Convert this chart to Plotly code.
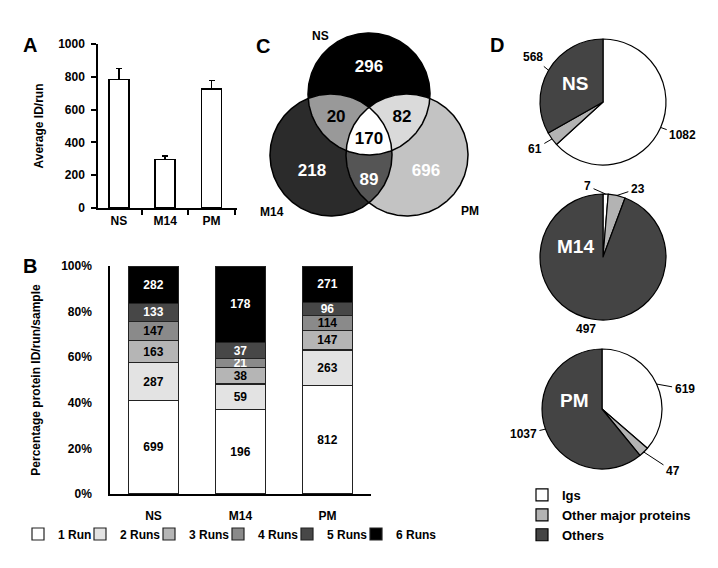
import numpy as np
import plotly.graph_objects as go

W, H = 718, 568
OFF = 8  # the page body adds an 8px margin; positions below are page pixels
FONT = "Liberation Sans, Arial, Helvetica, sans-serif"

# ---------------- data ----------------
# Panel A
a_categories = ["NS", "M14", "PM"]
a_avg_id = [785, 297, 725]
a_err = [67, 20, 52]
a_yticks = [0, 200, 400, 600, 800, 1000]

# Panel B (protein IDs found in n runs)
b_categories = ["NS", "M14", "PM"]
b_run_names = ["1 Run", "2 Runs", "3 Runs", "4 Runs", "5 Runs", "6 Runs"]
b_run1 = [699, 196, 812]
b_run2 = [287, 59, 263]
b_run3 = [163, 38, 147]
b_run4 = [147, 21, 114]
b_run5 = [133, 37, 96]
b_run6 = [282, 178, 271]
b_yticks = [0, 20, 40, 60, 80, 100]

# Panel C (Venn)
venn_sets = ["NS", "M14", "PM"]
venn_regions = [("NS",), ("M14",), ("PM",), ("NS", "M14"), ("NS", "PM"), ("M14", "PM"), ("NS", "M14", "PM")]
venn_counts = [296, 218, 696, 20, 82, 89, 170]

# Panel D (pies)
pie_samples = ["NS", "M14", "PM"]
pie_labels = ["Igs", "Other major proteins", "Others"]
pie_ns = [1082, 61, 568]
pie_m14 = [7, 23, 497]
pie_pm = [619, 47, 1037]

# ---------------- styles ----------------
b_colors = ["#ffffff", "#e3e3e3", "#b5b5b5", "#8a8a8a", "#474747", "#000000"]
b_text_colors = [["black"] * 3, ["black"] * 3, ["black"] * 3,
                 ["black", "white", "black"], ["white"] * 3, ["white"] * 3]
venn_geom = {"NS": (369, 94, 61), "M14": (331, 155, 61), "PM": (407, 155, 61)}
venn_fill = ["#000000", "#2b2b2b", "#c3c3c3", "#999999", "#dadada", "#555555", "#ffffff"]
venn_text_color = ["white", "white", "white", "black", "black", "white", "black"]
venn_label_dy = [-2, 5, 5, 1, 1, 8, 4]   # small nudges from region centroids
pie_colors = ["#ffffff", "#b3b3b3", "#444444"]
pie_geom = [(603, 102, 63), (603, 257, 63), (602, 409, 60)]
pie_name_pos = [(575, 83), (575, 246), (574, 400)]
pie_label_offsets = [[(22, 8), (-17, 10), (-16, -13)],
                     [(-18, -8), (21, -7), (-6, 10)],
                     [(28, 5), (29, 19), (-22, 5)]]
pie_label_arrow = [[True, True, True], [True, True, False], [True, True, True]]
b_legend_sq = [33, 95, 164, 233, 302, 371]   # left edge of each legend square


def fx(x):
    return (x - OFF) / W


def fy(y):
    return 1 - (y - OFF) / H


fig = go.Figure()

# ---------------- Panel A ----------------
fig.add_trace(go.Bar(
    x=a_categories, y=a_avg_id, xaxis="x", yaxis="y", width=0.43,
    marker=dict(color="white", line=dict(color="black", width=1.5)),
    error_y=dict(type="data", symmetric=False, array=a_err, arrayminus=[0] * 3,
                 color="black", thickness=1.5, width=3),
    showlegend=False))

# ---------------- Panel B ----------------
b_series = [b_run1, b_run2, b_run3, b_run4, b_run5, b_run6]
b_totals = [sum(s[i] for s in b_series) for i in range(3)]
for k, (name, vals) in enumerate(zip(b_run_names, b_series)):
    pct = [v / t * 100 for v, t in zip(vals, b_totals)]
    fig.add_trace(go.Bar(
        x=b_categories, y=pct, name=name, xaxis="x2", yaxis="y2", width=0.575,
        text=[str(v) for v in vals], textposition="inside", insidetextanchor="middle",
        textangle=0, constraintext="none",
        textfont=dict(color=b_text_colors[k], size=12, family=FONT, weight="bold"),
        marker=dict(color=b_colors[k], line=dict(color="#222222", width=1.2)),
        legend="legend" if k == 0 else f"legend{k + 1}", showlegend=True,
        hovertemplate="%{x}: %{text}<extra>" + name + "</extra>"))

# ---------------- Panel C ----------------
def circle_pts(cx, cy, r, n=360):
    t = np.linspace(0, 2 * np.pi, n, endpoint=False)
    return cx + r * np.cos(t), cy + r * np.sin(t)


def inside(x, y, name):
    cx, cy, r = venn_geom[name]
    return (x - cx) ** 2 + (y - cy) ** 2 <= r ** 2 + 1e-6


def intersection_polygon(names):
    xs, ys = [], []
    for nm in names:
        px, py = circle_pts(*venn_geom[nm], n=720)
        mask = np.ones_like(px, dtype=bool)
        for other in names:
            if other != nm:
                mask &= inside(px, py, other)
        xs.append(px[mask]); ys.append(py[mask])
    xs = np.concatenate(xs); ys = np.concatenate(ys)
    mx, my = xs.mean(), ys.mean()
    order = np.argsort(np.arctan2(ys - my, xs - mx))
    xs, ys = xs[order], ys[order]
    return np.append(xs, xs[0]), np.append(ys, ys[0])


paint = [(("NS",), 0), (("M14",), 1), (("PM",), 2), (("NS", "M14"), 3), (("NS", "PM"), 4),
         (("M14", "PM"), 5), (("NS", "M14", "PM"), 6)]
for names, idx in paint:
    if len(names) == 1:
        px, py = circle_pts(*venn_geom[names[0]])
        px, py = np.append(px, px[0]), np.append(py, py[0])
    else:
        px, py = intersection_polygon(names)
    fig.add_trace(go.Scatter(x=px, y=py, xaxis="x3", yaxis="y3", mode="lines", fill="toself",
                             fillcolor=venn_fill[idx], line=dict(width=0), hoverinfo="skip",
                             showlegend=False))
for nm in venn_sets:
    px, py = circle_pts(*venn_geom[nm])
    fig.add_trace(go.Scatter(x=np.append(px, px[0]), y=np.append(py, py[0]), xaxis="x3", yaxis="y3",
                             mode="lines", line=dict(color="black", width=1.5), hoverinfo="skip",
                             showlegend=False))

gx, gy = np.meshgrid(np.arange(250, 490, 0.5), np.arange(20, 230, 0.5))
lab_x, lab_y = [], []
for reg, dy in zip(venn_regions, venn_label_dy):
    m = np.ones_like(gx, dtype=bool)
    for nm in venn_sets:
        m &= inside(gx, gy, nm) if nm in reg else ~inside(gx, gy, nm)
    lab_x.append(gx[m].mean()); lab_y.append(gy[m].mean() + dy)
fig.add_trace(go.Scatter(x=lab_x, y=lab_y, xaxis="x3", yaxis="y3", mode="text",
                         text=[str(c) for c in venn_counts],
                         textfont=dict(color=venn_text_color, size=17, family=FONT, weight="bold"),
                         hoverinfo="skip", showlegend=False))

# ---------------- Panel D ----------------
annotations = []
lab_font = dict(size=12, family=FONT, color="black", weight="bold")
for i, (name, vals) in enumerate(zip(pie_samples, [pie_ns, pie_m14, pie_pm])):
    cx, cy, r = pie_geom[i]
    fig.add_trace(go.Pie(
        labels=pie_labels, values=vals, sort=False, direction="clockwise", rotation=0,
        marker=dict(colors=pie_colors, line=dict(color="black", width=1.2)),
        textinfo="none", hoverinfo="label+value", name=name,
        domain=dict(x=[fx(cx - r), fx(cx + r)], y=[fy(cy + r), fy(cy - r)]),
        legend="legend7", showlegend=True))
    tot = sum(vals)
    cum = np.cumsum([0] + vals)
    for j, v in enumerate(vals):
        a = (cum[j] + v / 2) / tot * 2 * np.pi
        ex, ey = cx + r * np.sin(a), cy - r * np.cos(a)
        dx, dy = pie_label_offsets[i][j]
        if pie_label_arrow[i][j]:
            annotations.append(dict(x=fx(ex), y=fy(ey), xref="paper", yref="paper", text=str(v),
                                    showarrow=True, arrowhead=0, arrowwidth=1, arrowcolor="black",
                                    ax=dx, ay=dy, standoff=0, startstandoff=1, font=lab_font,
                                    xanchor="center", yanchor="middle"))
        else:
            annotations.append(dict(x=fx(ex + dx), y=fy(ey + dy), xref="paper", yref="paper",
                                    text=str(v), showarrow=False, font=lab_font,
                                    xanchor="center", yanchor="middle"))
    nx, ny = pie_name_pos[i]
    annotations.append(dict(x=fx(nx), y=fy(ny), xref="paper", yref="paper", text=name,
                            showarrow=False, xanchor="center", yanchor="middle",
                            font=dict(size=19, family=FONT, color="white", weight="bold")))

for txt, (lx, ly) in zip(venn_sets, [(320, 36), (272, 212), (470, 211)]):
    annotations.append(dict(x=fx(lx), y=fy(ly), xref="paper", yref="paper", text=txt, showarrow=False,
                            xanchor="center", yanchor="middle", font=lab_font))
for txt, (lx, ly) in zip(["A", "B", "C", "D"], [(30, 45), (30, 266), (263, 46), (497, 45)]):
    annotations.append(dict(x=fx(lx), y=fy(ly), xref="paper", yref="paper", text=txt, showarrow=False,
                            xanchor="center", yanchor="middle",
                            font=dict(size=20, family=FONT, color="black", weight="bold")))

axis_font = dict(size=12, family=FONT, color="black", weight="bold")
legends = {}
for k in range(6):
    key = "legend" if k == 0 else f"legend{k + 1}"
    legends[key] = dict(x=fx(b_legend_sq[k] - 15), y=fy(534), xanchor="left", yanchor="middle",
                        orientation="h", bgcolor="rgba(0,0,0,0)", borderwidth=0,
                        font=dict(size=12, family=FONT, color="black", weight="bold"))
legends["legend7"] = dict(x=fx(537 - 15), y=fy(515), xanchor="left", yanchor="middle",
                          orientation="v", bgcolor="rgba(0,0,0,0)", borderwidth=0, traceorder="normal",
                          font=dict(size=13, family=FONT, color="black", weight="bold"))

fig.update_layout(
    template="none",
    width=W, height=H, margin=dict(l=0, r=0, t=0, b=0), autosize=False,
    paper_bgcolor="white", plot_bgcolor="white",
    font=dict(family=FONT, size=12, color="black", weight="bold"),
    barmode="stack", bargap=0.3,
    uniformtext=dict(minsize=12, mode="show"),
    xaxis=dict(domain=[fx(98), fx(237)], range=[-0.45, 2.55], anchor="y", type="category",
               showline=True, linecolor="black", linewidth=1.5, ticks="outside", tickson="boundaries",
               ticklen=5, tickwidth=1.5, tickcolor="black", showgrid=False, zeroline=False,
               tickfont=axis_font, ticklabelstandoff=1, automargin=False),
    yaxis=dict(domain=[fy(208), fy(44)], range=[0, 1000], anchor="x", tickvals=a_yticks,
               showline=True, linecolor="black", linewidth=1.5, ticks="outside", ticklen=5,
               tickwidth=1.5, tickcolor="black", showgrid=False, zeroline=False, tickfont=axis_font,
               ticklabelstandoff=4, automargin=False,
               title=dict(text="Average ID/run", font=axis_font, standoff=12)),
    xaxis2=dict(domain=[fx(110), fx(371)], range=[-0.5, 2.5], anchor="y2", type="category",
                showline=True, linecolor="black", linewidth=1.5, ticks="", showgrid=False,
                zeroline=False, tickfont=axis_font, ticklabelstandoff=10, automargin=False),
    yaxis2=dict(domain=[fy(494), fy(266)], range=[0, 100], anchor="x2", tickmode="array",
                tickvals=b_yticks, ticktext=[f"{v}%" for v in b_yticks],
                showline=True, linecolor="black", linewidth=1.5, ticks="",
                showgrid=False, zeroline=False, tickfont=axis_font, ticklabelstandoff=14,
                automargin=False,
                title=dict(text="Percentage protein ID/run/sample", font=axis_font, standoff=18)),
    xaxis3=dict(domain=[fx(250), fx(490)], range=[250, 490], anchor="y3", visible=False),
    yaxis3=dict(domain=[fy(230), fy(20)], range=[230, 20], anchor="x3", visible=False),
    annotations=annotations,
    **legends,
)

fig.write_html("out.html")
